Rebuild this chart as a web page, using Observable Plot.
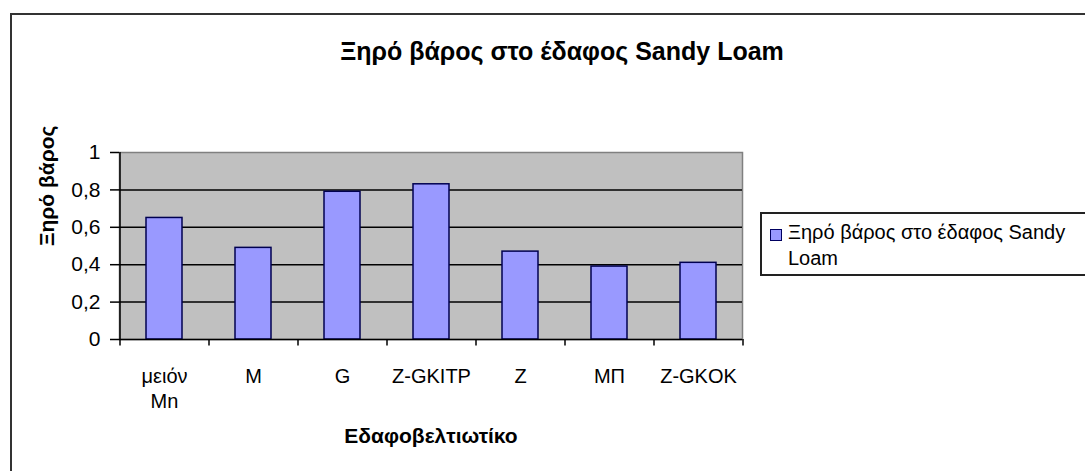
<!DOCTYPE html>
<html>
<head>
<meta charset="utf-8">
<script src="https://cdn.jsdelivr.net/npm/d3@7"></script>
<script src="https://cdn.jsdelivr.net/npm/@observablehq/plot@0.6"></script>
<style>
  html, body { margin: 0; padding: 0; background: #fff; }
  #wrap { position: relative; width: 1085px; height: 471px; overflow: hidden; font-family: "Liberation Sans", Arial, sans-serif; }
  #frame { position: absolute; left: 10px; top: 13px; width: 1200px; height: 600px; border: 2px solid #333; box-sizing: border-box; }
  #title { position: absolute; left: 0; width: 1124px; top: 37px; text-align: center; font-size: 25px; line-height: normal; font-weight: bold; color: #000; }
  #legend { position: absolute; left: 760px; top: 212px; width: 400px; height: 64px; border: 2px solid #222; box-sizing: border-box; background: #fff; }
  #legend .sw { position: absolute; left: 8px; top: 15px; width: 10px; height: 10px; background: #9999ff; border: 1.5px solid #000060; }
  #legend .tx { position: absolute; left: 26px; top: 5px; font-size: 20px; line-height: 26px; color: #000; width: 298px; }
  #chart { position: absolute; left: 0; top: 0; }
</style>
</head>
<body>
<div id="wrap">
  <div id="frame"></div>
  <div id="chart"></div>
  <div id="title"></div>
  <div id="legend"><div class="sw"></div><div class="tx"></div></div>
</div>
<script>
const chartTitle = "Ξηρό βάρος στο έδαφος Sandy Loam";
const seriesName = "Ξηρό βάρος στο έδαφος Sandy Loam";
const xTitle = "Εδαφοβελτιωτίκο";
const yTitle = "Ξηρό βάρος";
const categories = ["μειόν Mn", "M", "G", "Z-GKITP", "Z", "ΜΠ", "Z-GKOK"];
const values = [0.65, 0.49, 0.79, 0.83, 0.47, 0.39, 0.41];
const yTicks = [0, 0.2, 0.4, 0.6, 0.8, 1];
const gridTicks = [0.2, 0.4, 0.6, 0.8];

document.getElementById("title").textContent = chartTitle;
document.querySelector("#legend .tx").textContent = seriesName;

const data = categories.map((c, i) => ({cat: c, v: values[i]}));

const W = 1085, H = 471;
const mL = 119, mR = 343, mT = 152, mB = 132;
const step = (W - mL - mR) / categories.length;
const fmt = d => String(d).replace(".", ",");

const plot = Plot.plot({
  width: W,
  height: H,
  marginLeft: mL,
  marginRight: mR,
  marginTop: mT,
  marginBottom: mB,
  style: {fontFamily: "'Liberation Sans', Arial, sans-serif", fontSize: "20px", background: "transparent", overflow: "visible"},
  x: {domain: categories, paddingInner: 0.6, paddingOuter: 0.3, label: null},
  y: {domain: [0, 1], label: null},
  marks: [
    Plot.frame({fill: "#c0c0c0", stroke: "#808080", strokeWidth: 1.5}),
    Plot.ruleY(gridTicks, {stroke: "#000", strokeWidth: 1.5}),
    Plot.barY(data, {x: "cat", y: "v", fill: "#9999ff", stroke: "#000050", strokeWidth: 1.5}),
    Plot.ruleY([0], {stroke: "#000", strokeWidth: 1.5}),
    Plot.ruleX([0], {x: () => categories[0], dx: -step / 2, y1: 0, y2: 1, stroke: "#000", strokeWidth: 1.5}),
    Plot.ruleX(categories, {x: d => d, dx: -step / 2, y1: 0, y2: -0.035, stroke: "#000", strokeWidth: 1.5}),
    Plot.ruleX([categories[categories.length - 1]], {x: d => d, dx: step / 2, y1: 0, y2: -0.035, stroke: "#000", strokeWidth: 1.5}),
    Plot.axisY({ticks: yTicks, tickFormat: fmt, tickSize: 9, tickPadding: 10, fontSize: 21, stroke: "#000", strokeWidth: 1.5, fill: "#000", label: null, strokeOpacity: 1}),
    Plot.axisX({tickSize: 0, tickPadding: 26, fontSize: 20, fill: "#000", label: null, lineHeight: 1.25, tickFormat: d => d.replace(" ", "\n")}),
    Plot.text([xTitle], {frameAnchor: "bottom", dy: 103, fontSize: 21, fontWeight: "bold", fill: "#000", text: d => d}),
    Plot.text([yTitle], {frameAnchor: "left", dx: -72, rotate: -90, fontSize: 21, fontWeight: "bold", fill: "#000", text: d => d})
  ]
});
document.getElementById("chart").appendChild(plot);
</script>
</body>
</html>
